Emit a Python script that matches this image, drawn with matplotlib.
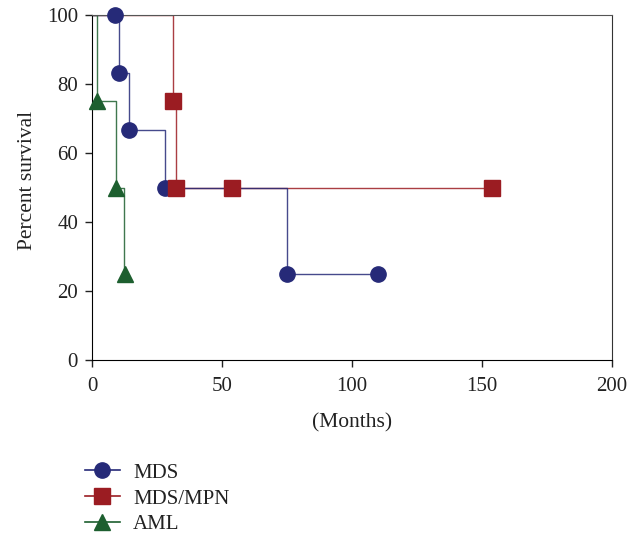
import matplotlib
matplotlib.use("Agg")
import matplotlib.pyplot as plt
from matplotlib.lines import Line2D

# Step lines (Kaplan-Meier, steps-post)
mds_line_x = [0, 10.5, 14.3, 28, 75, 110]
mds_line_y = [100, 83.3, 66.7, 50, 25, 25]
mds_mark_x = [8.8, 10.5, 14.3, 28, 75, 110]
mds_mark_y = [100, 83.3, 66.7, 50, 25, 25]

mpn_line_x = [0, 31.2, 32.3, 154]
mpn_line_y = [100, 75, 50, 50]
mpn_mark_x = [31.2, 32.2, 53.8, 154]
mpn_mark_y = [75, 50, 50, 50]

aml_line_x = [0, 2, 9.2, 12.2, 12.2]
aml_line_y = [100, 75, 50, 25, 25]
aml_mark_x = [2, 9.2, 12.5]
aml_mark_y = [75, 50, 25]

labels = ["MDS", "MDS/MPN", "AML"]
xticks = [0, 50, 100, 150, 200]
yticks = [0, 20, 40, 60, 80, 100]

c_mds = "#262a78"
c_mpn = "#9b1c22"
c_aml = "#1d5f2f"

plt.rcParams['font.family'] = ['Liberation Serif', 'DejaVu Serif']

fig = plt.figure(figsize=(6.39, 5.37), dpi=100)
ax = fig.add_axes([92/639, 1-360/537, (612-92)/639, (360-15)/537])

ax.step(mpn_line_x, mpn_line_y, where='post', color=c_mpn, lw=1.0, alpha=0.85, zorder=2)
ax.step(mds_line_x, mds_line_y, where='post', color=c_mds, lw=1.0, alpha=0.85, zorder=2)
ax.step(aml_line_x, aml_line_y, where='post', color=c_aml, lw=1.0, alpha=0.85, zorder=2)

ax.plot(mds_mark_x, mds_mark_y, 'o', color=c_mds, ms=11, zorder=3, clip_on=False)
ax.plot(mpn_mark_x, mpn_mark_y, 's', color=c_mpn, ms=11, zorder=4, clip_on=False)
ax.plot(aml_mark_x, aml_mark_y, '^', color=c_aml, ms=12, zorder=3, clip_on=False)

ax.set_xlim(0, 200)
ax.set_ylim(0, 100)
ax.set_xticks(xticks)
ax.set_yticks(yticks)
ax.tick_params(direction='out', length=5, width=1, labelsize=15, colors='#222222')
ax.tick_params(axis='x', pad=7)
ax.tick_params(axis='y', pad=5)
ax.spines['top'].set_color('#555555')
ax.spines['right'].set_color('#333333')
ax.set_xlabel('(Months)', fontsize=15.5, color='#222222', labelpad=13)
ax.set_ylabel('Percent survival', fontsize=15.5, color='#222222', labelpad=7)
ax.yaxis.label.set_y(0.52)

handles = [
    Line2D([], [], color=c_mds, lw=1.2, marker='o', ms=11),
    Line2D([], [], color=c_mpn, lw=1.2, marker='s', ms=11),
    Line2D([], [], color=c_aml, lw=1.2, marker='^', ms=12),
]
leg = fig.legend(handles, labels, loc='upper left', bbox_to_anchor=(81/639, 1-459/537),
                 frameon=False, fontsize=15, handlelength=1.65, labelspacing=0.3,
                 handletextpad=0.65, borderaxespad=0, borderpad=0.2)
for t in leg.get_texts():
    t.set_color('#222222')

fig.savefig('out.png', dpi=100)
